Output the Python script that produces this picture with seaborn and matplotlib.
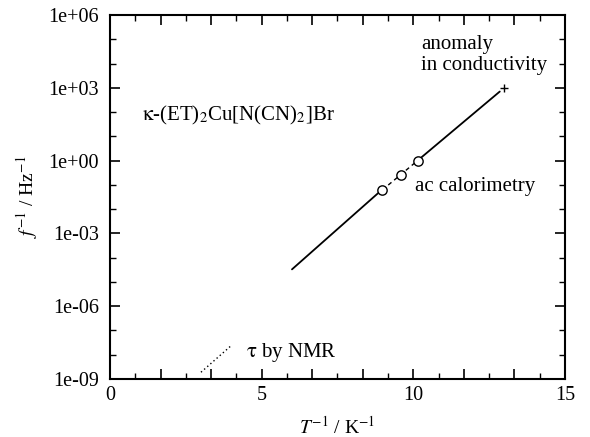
import numpy as np
import pandas as pd
import matplotlib
import matplotlib.pyplot as plt
import matplotlib.ticker as mticker
import seaborn as sns

matplotlib.use('Agg')

# data (x = 1/T in K^-1, y = 1/f in Hz^-1)
fit_low_x = [6.0, 8.96]
fit_low_y = [3.3e-5, 0.062]
calor_x = [8.98, 9.58, 10.14]
calor_y = [0.062, 0.26, 1.0]
fit_high_x = [10.14, 12.85]
fit_high_y = [1.0, 7.0e2]
cond_x = [13.0]
cond_y = [1.0e3]
nmr_x = [3.0, 4.0]
nmr_y = [1.9e-9, 2.4e-8]

sns.set_theme(style="ticks")
plt.rcParams['font.family'] = ['Liberation Serif', 'DejaVu Serif']
plt.rcParams['mathtext.fontset'] = 'stix'

fig = plt.figure(figsize=(5.9, 4.37), dpi=100)
ax = fig.add_axes([0.1864, 0.1327, 0.7712, 0.833])

sns.lineplot(x=fit_low_x, y=fit_low_y, color='black', lw=1.3, ax=ax)
sns.lineplot(x=fit_high_x, y=fit_high_y, color='black', lw=1.3, ax=ax)
sns.lineplot(x=calor_x, y=calor_y, color='black', lw=1.0, ax=ax)
ax.lines[-1].set_dashes([3, 2.5])
sns.lineplot(x=nmr_x, y=nmr_y, color='black', lw=1.0, ax=ax)
ax.lines[-1].set_dashes([1, 2])
sns.scatterplot(x=calor_x, y=calor_y, marker='o', s=45, facecolor='white',
                edgecolor='black', linewidth=1.0, zorder=5, ax=ax)
sns.scatterplot(x=cond_x, y=cond_y, marker='+', s=30, color='black',
                linewidth=1.0, zorder=5, ax=ax)

ax.set_yscale('log')
ax.set_xlim(0, 15)
ax.set_ylim(1e-9, 1e6)

ax.xaxis.set_major_locator(mticker.FixedLocator(np.arange(0, 15.01, 5 / 3)))
ax.xaxis.set_major_formatter(mticker.FuncFormatter(
    lambda v, p: f"{v:.0f}" if abs(v / 5 - round(v / 5)) < 1e-6 else ""))
ax.xaxis.set_minor_locator(mticker.FixedLocator(np.arange(0, 15.01, 5 / 6)))
ax.yaxis.set_major_locator(mticker.FixedLocator([1e-9, 1e-6, 1e-3, 1e0, 1e3, 1e6]))
ax.yaxis.set_major_formatter(mticker.FuncFormatter(lambda v, p: f"{v:.0e}"))
ax.yaxis.set_minor_locator(mticker.FixedLocator([10.0 ** k for k in range(-9, 7)]))
ax.yaxis.set_minor_formatter(mticker.NullFormatter())

ax.tick_params(which='both', direction='in', top=True, right=True,
               color='black', labelsize=14.5, labelcolor='black')
ax.tick_params(which='major', length=7, width=1.2)
ax.tick_params(axis='y', which='major', pad=8)
ax.tick_params(axis='x', which='major', pad=5)
ax.tick_params(which='minor', length=4, width=1.0)
for s in ax.spines.values():
    s.set_color('black')
    s.set_linewidth(1.5)

ax.set_xlabel(r'$T^{-1}$ / K$^{-1}$', fontsize=14, color='black', labelpad=8)
ax.set_ylabel(r'$f^{-1}$ / Hz$^{-1}$', fontsize=14, color='black', labelpad=6)

ax.text(1.05, 7e1, r'$\mathrm{\kappa}$-(ET)$_2$Cu[N(CN)$_2$]Br', fontsize=15,
        va='center', ha='left', color='black')
ax.text(10.25, 2.2e4, 'anomaly\nin conductivity', fontsize=15, va='center',
        ha='left', color='black', linespacing=1.12)
ax.text(10.05, 0.085, 'ac calorimetry', fontsize=15, va='center', ha='left',
        color='black')
ax.text(4.5, 1.2e-8, r'$\mathrm{\tau}$ by NMR', fontsize=15, va='center',
        ha='left', color='black')

plt.savefig('out.png', dpi=100)
